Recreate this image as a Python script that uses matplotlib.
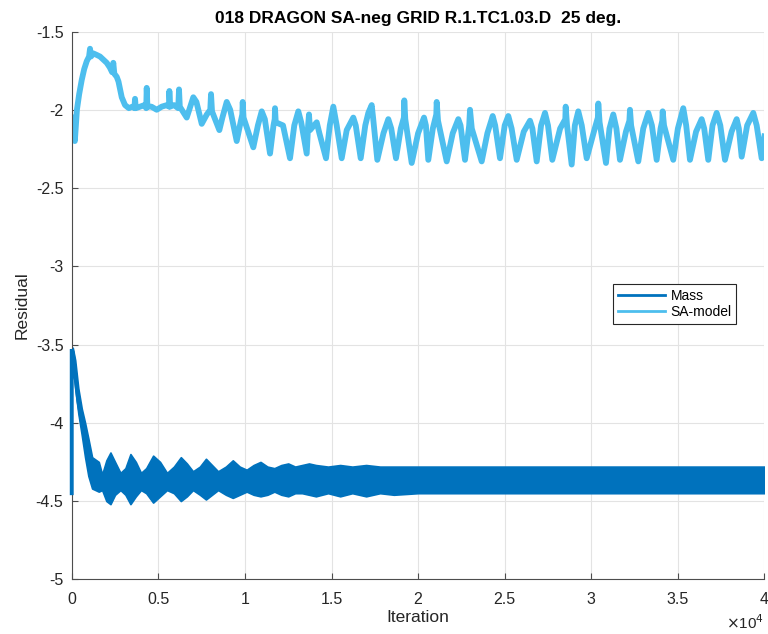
import matplotlib
matplotlib.use("Agg")
import matplotlib.pyplot as plt
from matplotlib.lines import Line2D
from matplotlib.ticker import FuncFormatter

plt.rcParams.update({
    'font.family': ['Liberation Sans', 'DejaVu Sans'],
    'font.size': 11,
})

# SA-model residual (peaks, troughs, spikes)
sa_iter = [0, 60, 120, 180, 240, 300, 430, 577, 720, 866, 1000, 1057, 1110, 1250, 1450, 1634,
           1830, 2021, 2200, 2330, 2400, 2460, 2600, 2700, 2887, 3077, 3300, 3500, 3620, 3655,
           3700, 3950, 4200, 4300, 4330, 4370, 4600, 4907, 5200, 5500, 5620, 5637, 5680, 5900,
           6150, 6195, 6240, 6640, 7020, 7200, 7506, 7800, 8000, 8043, 8100, 8524, 8700, 8949,
           9150, 9526, 9750, 9850, 9873, 9920, 10485, 10750, 10970, 11150, 11450, 11650, 11720,
           11738, 11780, 12200, 12604, 12850, 13083, 13250, 13568, 13650, 13700, 13760, 14146,
           14300, 14683, 14900, 15104, 15300, 15589, 15878, 16259, 16400, 16686, 16950, 17126,
           17321, 17400, 17645, 18000, 18280, 18450, 18724, 19000, 19180, 19203, 19260, 19630,
           20000, 20341, 20450, 20589, 20850, 21050, 21074, 21150, 21651, 22000, 22322, 22450,
           22708, 22950, 22997, 23100, 23672, 24000, 24307, 24450, 24729, 25000, 25208, 25400,
           25693, 26100, 26461, 26600, 26848, 27100, 27327, 27500, 27749, 28200, 28500, 28522,
           28600, 28868, 29050, 29250, 29450, 29735, 30200, 30380, 30405, 30480, 30849, 31050,
           31270, 31450, 31657, 32000, 32200, 32234, 32300, 32714, 33000, 33291, 33500, 33776,
           34000, 34100, 34122, 34200, 34734, 35000, 35312, 35480, 35699, 36050, 36374, 36520,
           36755, 37000, 37240, 37450, 37720, 38100, 38395, 38520, 38684, 39000, 39353, 39550,
           39838, 40000]
sa_res = [-2.05, -2.19, -2.08, -2.2, -2.1, -2.0, -1.9, -1.81, -1.74, -1.69, -1.66, -1.61, -1.66,
          -1.64, -1.65, -1.66, -1.68, -1.70, -1.73, -1.76, -1.70, -1.77, -1.79, -1.82, -1.92,
          -1.97, -1.99, -1.98, -1.99, -1.93, -1.99, -1.98, -1.97, -1.99, -1.86, -1.98, -1.98,
          -2.0, -1.98, -1.97, -1.98, -1.88, -1.98, -1.97, -1.99, -1.87, -1.98, -2.05, -1.92,
          -1.95, -2.09, -2.03, -2.0, -1.9, -2.01, -2.13, -2.05, -1.95, -2.0, -2.2, -2.08, -2.03,
          -1.95, -2.05, -2.24, -2.1, -2.01, -2.06, -2.28, -2.1, -2.06, -1.99, -2.08, -2.1, -2.31,
          -2.1, -2.01, -2.08, -2.28, -2.1, -2.03, -2.13, -2.08, -2.15, -2.31, -2.1, -1.98, -2.1,
          -2.31, -2.13, -2.05, -2.1, -2.31, -2.1, -2.02, -1.97, -2.05, -2.32, -2.15, -2.06,
          -2.12, -2.31, -2.12, -2.05, -1.94, -2.06, -2.34, -2.15, -2.05, -2.1, -2.32, -2.12,
          -2.03, -1.95, -2.07, -2.33, -2.15, -2.06, -2.1, -2.32, -2.1, -2.0, -2.12, -2.33, -2.15,
          -2.04, -2.1, -2.31, -2.1, -2.04, -2.12, -2.32, -2.14, -2.07, -2.12, -2.33, -2.1, -2.02,
          -2.1, -2.32, -2.12, -2.06, -1.98, -2.1, -2.35, -2.1, -2.01, -2.1, -2.31, -2.12, -2.05,
          -1.96, -2.08, -2.34, -2.12, -2.03, -2.12, -2.32, -2.14, -2.07, -2.0, -2.1, -2.33,
          -2.12, -2.02, -2.1, -2.32, -2.12, -2.07, -2.01, -2.1, -2.32, -2.12, -1.99, -2.1, -2.32,
          -2.14, -2.06, -2.12, -2.32, -2.1, -2.02, -2.1, -2.32, -2.14, -2.06, -2.12, -2.3, -2.1,
          -2.02, -2.1, -2.31, -2.17]

# Mass residual: initial transient (line) ...
mass_iter = [0, 0, 58, 190, 381, 577, 768, 958, 1100]
mass_res = [-4.45, -3.53, -3.55, -3.68, -3.86, -3.99, -4.1, -4.22, -4.32]

# ... then the dense oscillation band (upper / lower envelope)
band_iter = [58, 200, 380, 580, 770, 960, 1177, 1562, 1755, 2000, 2236, 2500, 2813, 3100, 3390,
             3700, 4000, 4300, 4700, 5100, 5500, 5900, 6300, 6650, 7000, 7400, 7750, 8100, 8450,
             8900, 9300, 9700, 10100, 10500, 10900, 11300, 11700, 12100, 12500, 12900, 13300,
             13700, 14100, 14800, 15500, 16200, 17000, 17800, 18600, 20000, 22000, 24000, 26000,
             28000, 30000, 32000, 34000, 36000, 38000, 40000]
band_upper = [-3.52, -3.60, -3.78, -3.91, -4.00, -4.10, -4.22, -4.25, -4.33, -4.24, -4.19, -4.25,
              -4.32, -4.29, -4.20, -4.25, -4.32, -4.29, -4.21, -4.25, -4.32, -4.28, -4.22, -4.26,
              -4.31, -4.28, -4.23, -4.27, -4.31, -4.28, -4.24, -4.28, -4.30, -4.27, -4.25, -4.28,
              -4.29, -4.27, -4.26, -4.28, -4.27, -4.26, -4.27, -4.28, -4.27, -4.28, -4.27, -4.28,
              -4.28, -4.28, -4.28, -4.28, -4.28, -4.28, -4.28, -4.28, -4.28, -4.28, -4.28, -4.28]
band_lower = [-3.62, -3.78, -3.94, -4.08, -4.22, -4.34, -4.42, -4.44, -4.43, -4.50, -4.52, -4.46,
              -4.43, -4.46, -4.52, -4.47, -4.43, -4.45, -4.51, -4.47, -4.43, -4.45, -4.50, -4.47,
              -4.43, -4.46, -4.49, -4.46, -4.43, -4.46, -4.48, -4.46, -4.44, -4.46, -4.47, -4.46,
              -4.44, -4.46, -4.47, -4.45, -4.45, -4.46, -4.47, -4.45, -4.47, -4.45, -4.47, -4.45,
              -4.46, -4.45, -4.45, -4.45, -4.45, -4.45, -4.45, -4.45, -4.45, -4.45, -4.45, -4.45]

x_ticks = [0, 5000, 10000, 15000, 20000, 25000, 30000, 35000, 40000]
y_ticks = [-5, -4.5, -4, -3.5, -3, -2.5, -2, -1.5]

MASS_COLOR = '#0072BD'
SA_COLOR = '#4DBEEE'

fig = plt.figure(figsize=(7.68, 6.34), dpi=100)
ax = fig.add_axes([0.0934, 0.0863, 0.902, 0.864])

ax.plot(mass_iter, mass_res, color=MASS_COLOR, linewidth=2.8, solid_joinstyle='miter',
        clip_on=False, zorder=3)
ax.fill_between(band_iter, band_lower, band_upper, color=MASS_COLOR, linewidth=1.2,
                edgecolor=MASS_COLOR)
ax.plot(sa_iter, sa_res, color=SA_COLOR, linewidth=4.2, solid_joinstyle='round')

ax.set_xlim(0, 40000)
ax.set_ylim(-5, -1.5)
ax.set_xticks(x_ticks)
ax.set_yticks(y_ticks)
ax.xaxis.set_major_formatter(FuncFormatter(lambda v, p: f"{v / 1e4:g}"))
ax.yaxis.set_major_formatter(FuncFormatter(lambda v, p: f"{v:g}"))

ax.grid(True, color='#e3e3e3', linewidth=0.8)
ax.set_axisbelow(True)
for side in ['top', 'right']:
    ax.spines[side].set_visible(False)
for side in ['left', 'bottom']:
    ax.spines[side].set_color('#4d4d4d')
    ax.spines[side].set_linewidth(0.8)
ax.tick_params(direction='in', length=4, width=0.8, color='#4d4d4d',
               labelsize=11.5, labelcolor='#262626')
ax.tick_params(axis='x', pad=9)
ax.tick_params(axis='y', pad=6)

ax.set_title("018 DRAGON SA-neg GRID R.1.TC1.03.D  25 deg.", fontsize=12.5,
             fontweight='bold', color='#000000', pad=6)
ax.set_xlabel("Iteration", fontsize=12.5, color='#262626', labelpad=2)
ax.set_ylabel("Residual", fontsize=12.5, color='#262626', labelpad=4)
ax.text(1.0, -0.079, r"$\times$10$^4$", transform=ax.transAxes, ha='right', va='center',
        fontsize=11, color='#262626')

handles = [Line2D([0], [0], color=MASS_COLOR, linewidth=2),
           Line2D([0], [0], color=SA_COLOR, linewidth=2)]
leg = ax.legend(handles, ['Mass', 'SA-model'], loc='upper left',
                bbox_to_anchor=(0.781, 0.5385), borderaxespad=0, fancybox=False,
                edgecolor='#262626', framealpha=1, fontsize=10, handlelength=3.4,
                handletextpad=0.4, borderpad=0.35, labelspacing=0.15)
leg.get_frame().set_linewidth(0.8)

fig.savefig("out.png", dpi=100)
